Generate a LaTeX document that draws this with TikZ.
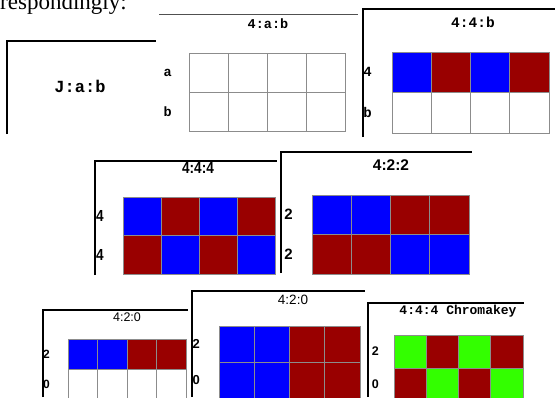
\documentclass[tikz,border=0pt]{standalone}
\usepackage{fontspec}
\setmainfont{Liberation Serif}
\setsansfont{Liberation Sans}
\newfontfamily\monofam{Liberation Mono}
\newfontfamily\narrowfam{Liberation Sans}[FakeStretch=0.85]
\usepackage{tikz}
\usetikzlibrary{positioning}
\definecolor{lumablue}{RGB}{0,0,255}
\definecolor{chromared}{RGB}{153,0,0}
\definecolor{keygreen}{RGB}{51,255,0}
\definecolor{gridgray}{RGB}{140,140,140}
\definecolor{edgegray}{RGB}{80,80,80}

\begin{document}
\begin{tikzpicture}[
  x=1pt, y=-1pt,
  frm/.style   = {draw, line width=1.1pt},
  cell/.style  = {draw=gridgray, fill=#1, line width=0.8pt, inner sep=0pt,
                  outer sep=0pt, anchor=north west,
                  minimum width=\cw, minimum height=\ch},
  cell/.default = white,
  mttl/.style  = {font=\monofam\bfseries\fontsize{#1}{#1}\selectfont, inner sep=0pt},
  sttl/.style  = {font=\sffamily\fontsize{#1}{#1}\selectfont, inner sep=0pt},
  bttl/.style  = {font=\sffamily\bfseries\fontsize{#1}{#1}\selectfont, inner sep=0pt},
  nttl/.style  = {font=\narrowfam\bfseries\fontsize{#1}{#1}\selectfont, inner sep=0pt}
]
\useasboundingbox (0,0) rectangle (555,397);

% ======================= lead-in text (cut at the top) =====================
\node[anchor=base west, inner sep=0pt, font=\fontsize{23}{24}\selectfont]
  (lead) at (0,9.5) {respondingly:};

% ============================== J:a:b ======================================
\node[mttl=17] (jab) at (80,86) {J:a:b};
\draw[frm] (7,134) -- (7,41) -- (156,41);

% ============================== 4:a:b ======================================
\def\cw{39}\def\ch{39}
\foreach \r in {1,2}
  \foreach \c in {1,...,4}
    \node[cell] (p2-\r-\c) at ({189+(\c-1)*\cw},{53+(\r-1)*\ch}) {};
\node[mttl=13.5] (p2t) at (268,24) {4:a:b};
\node[mttl=13.5, left=17pt of p2-1-1.west] (p2a) {a};
\node[mttl=13.5, left=17pt of p2-2-1.west] (p2b) {b};
\draw[frm, edgegray, line width=0.9pt] (159,14) -- (358,14);

% ============================== 4:4:b ======================================
\def\cw{39.25}\def\ch{40.5}
\foreach \r/\row in {1/{lumablue,chromared,lumablue,chromared},
                     2/{white,white,white,white}}
  \foreach \f [count=\c] in \row
    \node[cell=\f] (p3-\r-\c) at ({392+(\c-1)*\cw},{52+(\r-1)*\ch}) {};
\node[mttl=14.5] (p3t) at (473,22) {4:4:b};
\node[mttl=14, left=20pt of p3-1-1.west] (p3a) {4};
\node[mttl=14, left=20pt of p3-2-1.west] (p3b) {b};
\draw[frm] (363,137) -- (363,9) -- (555,9);

% ============================== 4:4:4 ======================================
\def\cw{38}\def\ch{38.5}
\foreach \r/\row in {1/{lumablue,chromared,lumablue,chromared},
                     2/{chromared,lumablue,chromared,lumablue}}
  \foreach \f [count=\c] in \row
    \node[cell=\f] (p4-\r-\c) at ({123+(\c-1)*\cw},{197+(\r-1)*\ch}) {};
\node[nttl=16] (p4t) at (198,168) {4:4:4};
\node[nttl=16, left=19pt of p4-1-1.west] (p4a) {4};
\node[nttl=16, left=19pt of p4-2-1.west] (p4b) {4};
\draw[frm] (95,275) -- (95,161) -- (277,161);

% ============================== 4:2:2 ======================================
\def\cw{39.25}\def\ch{39.5}
\foreach \r/\row in {1/{lumablue,lumablue,chromared,chromared},
                     2/{chromared,chromared,lumablue,lumablue}}
  \foreach \f [count=\c] in \row
    \node[cell=\f] (p5-\r-\c) at ({312+(\c-1)*\cw},{195+(\r-1)*\ch}) {};
\node[bttl=15.5] (p5t) at (391,165) {4:2:2};
\node[bttl=15, left=19pt of p5-1-1.west] (p5a) {2};
\node[bttl=15, left=19pt of p5-2-1.west] (p5b) {2};
\draw[frm] (281,273) -- (281,152) -- (472,152);

% ========================= 4:2:0 (small) ===================================
\def\cw{29.5}\def\ch{30}
\foreach \r/\row in {1/{lumablue,lumablue,chromared,chromared},
                     2/{white,white,white,white}}
  \foreach \f [count=\c] in \row
    \node[cell=\f] (p6-\r-\c) at ({68+(\c-1)*\cw},{339+(\r-1)*\ch}) {};
\node[sttl=12.5] (p6t) at (127,317) {4:2:0};
\node[bttl=12, left=18pt of p6-1-1.west] (p6a) {2};
\node[bttl=12, left=18pt of p6-2-1.west] (p6b) {0};
\draw[frm] (43,397) -- (43,310) -- (188,310);

% ========================= 4:2:0 (large) ===================================
\def\cw{35.25}\def\ch{36}
\foreach \r/\row in {1/{lumablue,lumablue,chromared,chromared},
                     2/{lumablue,lumablue,chromared,chromared}}
  \foreach \f [count=\c] in \row
    \node[cell=\f] (p7-\r-\c) at ({219+(\c-1)*\cw},{326+(\r-1)*\ch}) {};
\node[sttl=13.5] (p7t) at (293,300) {4:2:0};
\node[bttl=13, left=19pt of p7-1-1.west] (p7a) {2};
\node[bttl=13, left=19pt of p7-2-1.west] (p7b) {0};
\draw[frm] (192,397) -- (192,291) -- (365,291);

% ========================= 4:4:4 Chromakey =================================
\def\cw{32.25}\def\ch{33}
\foreach \r/\row in {1/{keygreen,chromared,keygreen,chromared},
                     2/{chromared,keygreen,chromared,keygreen}}
  \foreach \f [count=\c] in \row
    \node[cell=\f] (p8-\r-\c) at ({394+(\c-1)*\cw},{335+(\r-1)*\ch}) {};
\node[mttl=13] (p8t) at (458,311) {4:4:4 Chromakey};
\node[bttl=12.5, left=15pt of p8-1-1.west] (p8a) {2};
\node[bttl=12.5, left=15pt of p8-2-1.west] (p8b) {0};
\draw[frm] (368,397) -- (368,303) -- (524,303);

\end{tikzpicture}
\end{document}
